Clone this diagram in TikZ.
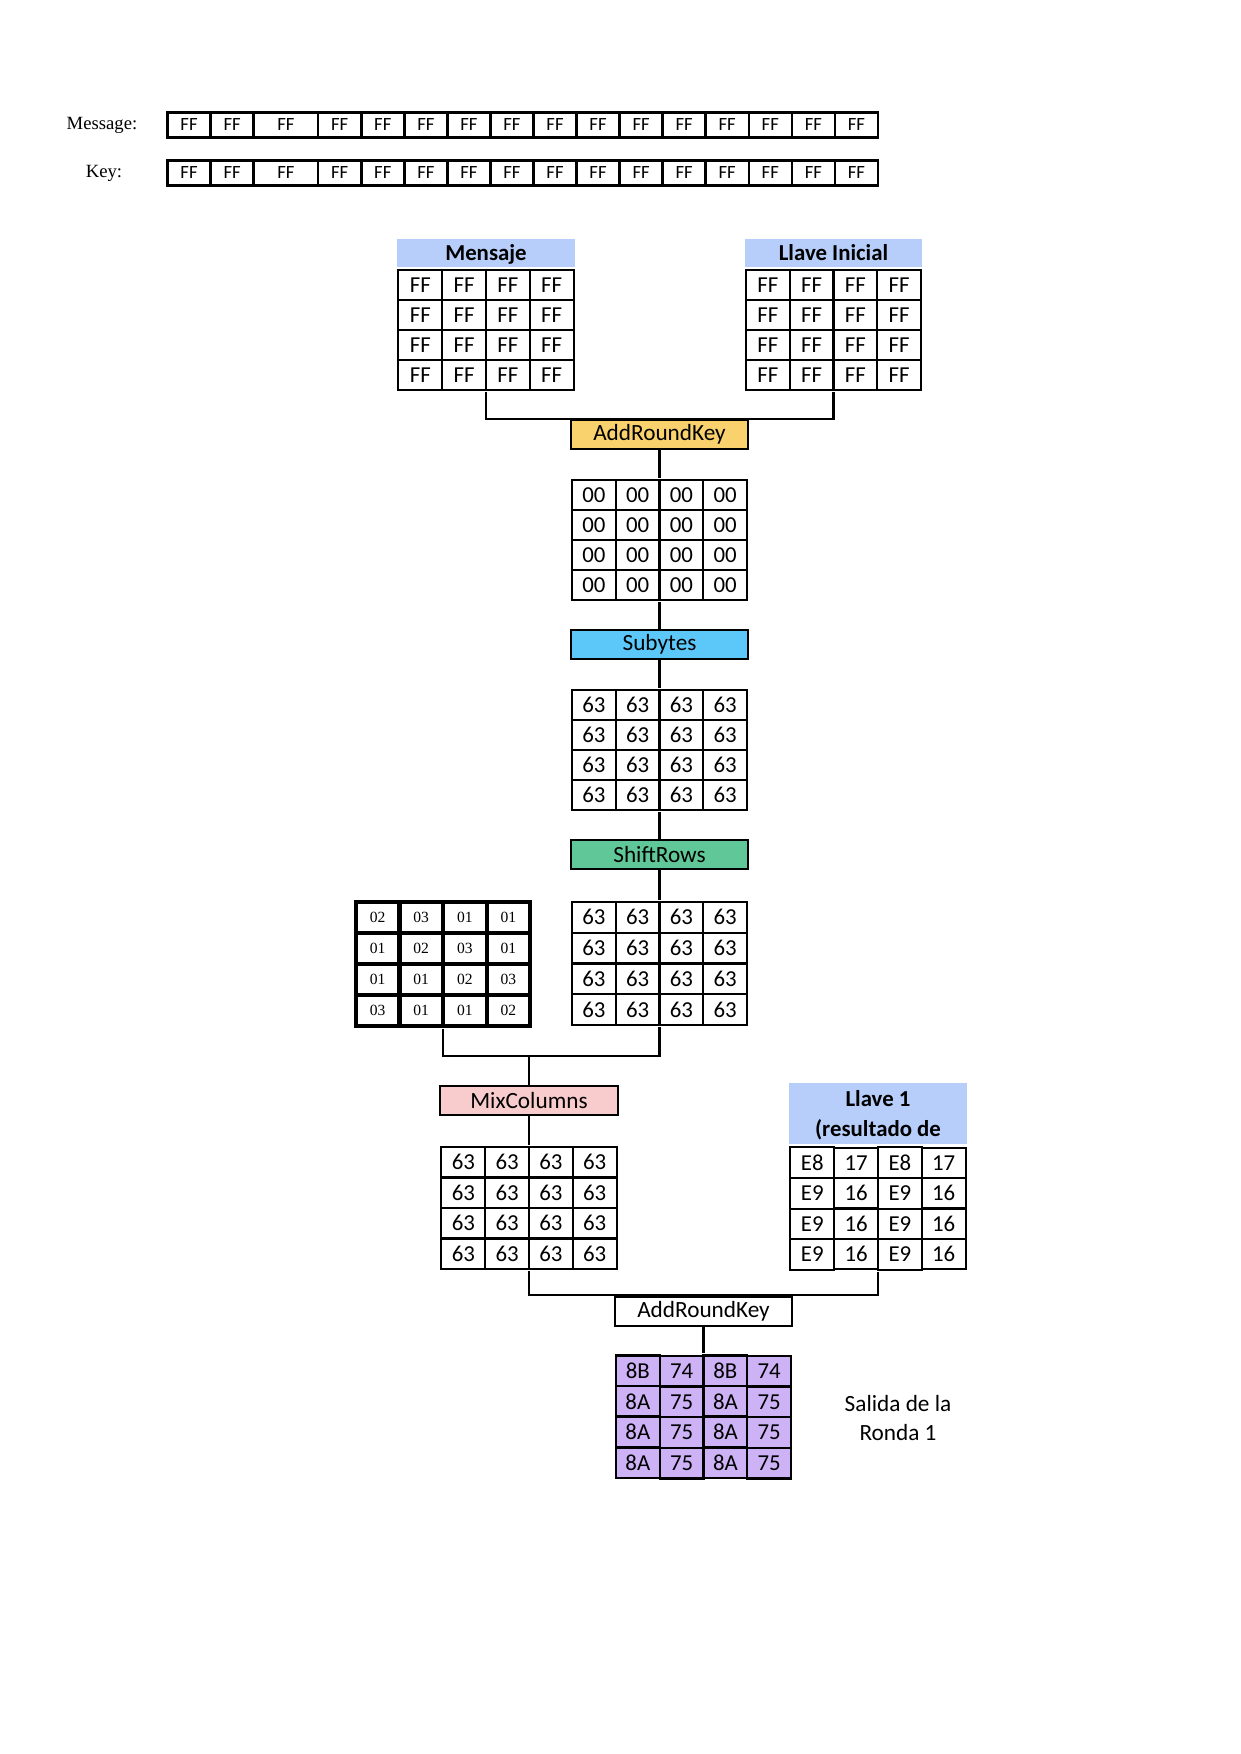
\documentclass[tikz,border=0pt]{standalone}
\usepackage{fontspec}
\setmainfont{Carlito}
\newfontfamily\timesfont{Liberation Serif}
\usetikzlibrary{matrix}
\usetikzlibrary{positioning}

\definecolor{hdrblue}{RGB}{183,206,250}
\definecolor{arkyellow}{RGB}{249,210,110}
\definecolor{subblue}{RGB}{92,200,250}
\definecolor{shrgreen}{RGB}{96,200,152}
\definecolor{mixpink}{RGB}{248,204,204}
\definecolor{outpurple}{RGB}{206,178,246}

\begin{document}
\begin{tikzpicture}[x=0.016935cm,y=-0.016935cm,line width=1pt,
	cell/.style={draw,minimum width=21.1pt,minimum height=14.45pt,inner sep=0pt,
		font=\fontsize{11}{13}\selectfont},
	state/.style={matrix of nodes,inner sep=0pt,column sep=-1pt,row sep=-1pt,nodes={cell}},
	bytes/.style={matrix of nodes,inner sep=0pt,column sep=-1.2pt,
		nodes={draw,line width=1.2pt,minimum width=20.75pt,minimum height=11.85pt,inner sep=0pt,
		font=\fontsize{9}{10}\selectfont}},
	opbox/.style={draw,minimum width=85.4pt,minimum height=14pt,inner sep=0pt,
		font=\fontsize{11.2}{13}\selectfont},
	header/.style={fill=hdrblue,minimum width=85.4pt,minimum height=13.5pt,inner sep=0pt,
		text depth=0pt,align=center,font=\bfseries\fontsize{11}{14.45}\selectfont},
	lbl/.style={font=\timesfont\fontsize{9}{10}\selectfont}]
	
	\useasboundingbox (0,0) rectangle (1240,1754);
	
	% message and key bytes
	\node[lbl] (msglbl) at (102,125) {Message:};
	\node[lbl] (keylbl) at (104,173) {Key:};
	\matrix (msgrow) [bytes] at (522.75,125) {
		FF & FF & |[minimum width=31.1pt]| FF & FF & FF & FF & FF & FF & FF & FF & FF & FF & FF & FF & FF & FF \\
	};
	\matrix (keyrow) [bytes] at (522.75,173) {
		FF & FF & |[minimum width=31.1pt]| FF & FF & FF & FF & FF & FF & FF & FF & FF & FF & FF & FF & FF & FF \\
	};
	
	% initial state and key
	\matrix (msg) [state] at (486,330) {
		FF & FF & FF & FF \\
		FF & FF & FF & FF \\
		FF & FF & FF & FF \\
		FF & FF & FF & FF \\
	};
	\node[header,above=0pt of msg] (msgh) {Mensaje};
	\matrix (key) [state] at (833.5,330) {
		FF & FF & FF & FF \\
		FF & FF & FF & FF \\
		FF & FF & FF & FF \\
		FF & FF & FF & FF \\
	};
	\node[header,above=0pt of key] (keyh) {Llave Inicial};
	
	\node[opbox,fill=arkyellow] (ark) at (659.5,434.5) {AddRoundKey};
	\matrix (s0) [state] at (659.5,540) {
		00 & 00 & 00 & 00 \\
		00 & 00 & 00 & 00 \\
		00 & 00 & 00 & 00 \\
		00 & 00 & 00 & 00 \\
	};
	\node[opbox,fill=subblue] (sub) at (659.5,644.5) {Subytes};
	\matrix (s1) [state] at (659.5,750) {
		63 & 63 & 63 & 63 \\
		63 & 63 & 63 & 63 \\
		63 & 63 & 63 & 63 \\
		63 & 63 & 63 & 63 \\
	};
	\node[opbox,fill=shrgreen] (shr) at (659.5,854.5) {ShiftRows};
	\matrix (s2) [state,nodes={minimum height=14.9pt}] at (659.5,963.5) {
		63 & 63 & 63 & 63 \\
		63 & 63 & 63 & 63 \\
		63 & 63 & 63 & 63 \\
		63 & 63 & 63 & 63 \\
	};
	
	% mixcolumns matrix
	\matrix (mixm) [state,column sep=-2pt,row sep=-2pt,
		nodes={line width=2pt,minimum width=21pt,minimum height=15pt,font=\timesfont\fontsize{7.5}{9}\selectfont}]
		at (443,964) {
		02 & 03 & 01 & 01 \\
		01 & 02 & 03 & 01 \\
		01 & 01 & 02 & 03 \\
		03 & 01 & 01 & 02 \\
	};
	\coordinate (join) at (529,1056);
	\node[opbox,fill=mixpink] (mix) at (529,1100.5) {MixColumns};
	\matrix (s3) [state,nodes={minimum height=14.7pt}] at (529,1208) {
		63 & 63 & 63 & 63 \\
		63 & 63 & 63 & 63 \\
		63 & 63 & 63 & 63 \\
		63 & 63 & 63 & 63 \\
	};
	
	% round key 1
	\matrix (k1) [state,nodes={minimum height=14.6pt}] at (878,1208.5) {
		E8 & 17 & E8 & 17 \\
		E9 & 16 & E9 & 16 \\
		E9 & 16 & E9 & 16 \\
		E9 & 16 & E9 & 16 \\
	};
	\node[header,above=0pt of k1,minimum height=29.4pt] (k1h) {Llave 1\\(resultado de};
	
	\node[opbox] (ark2) at (703.5,1311) {AddRoundKey};
	\matrix (out) [state,nodes={fill=outpurple,minimum height=14.6pt}] at (703.5,1417) {
		8B & 74 & 8B & 74 \\
		8A & 75 & 8A & 75 \\
		8A & 75 & 8A & 75 \\
		8A & 75 & 8A & 75 \\
	};
	\node[align=center,font=\fontsize{11.2}{14.45}\selectfont] (outlbl) at (898,1418) {Salida de la\\Ronda 1};
	
	\draw (msg.south) |- (ark.north) -| (key.south);
	\draw (ark.south) -- (s0.north) (s0.south) -- (sub.north)
		(sub.south) -- (s1.north) (s1.south) -- (shr.north) (shr.south) -- (s2.north);
	\draw (mixm.south) |- (join) -| (s2.south);
	\draw (join) -- (mix.north) (mix.south) -- (s3.north);
	\draw (s3.south) |- (ark2.north) -| (k1.south);
	\draw (ark2.south) -- (out.north);
\end{tikzpicture}
\end{document}
